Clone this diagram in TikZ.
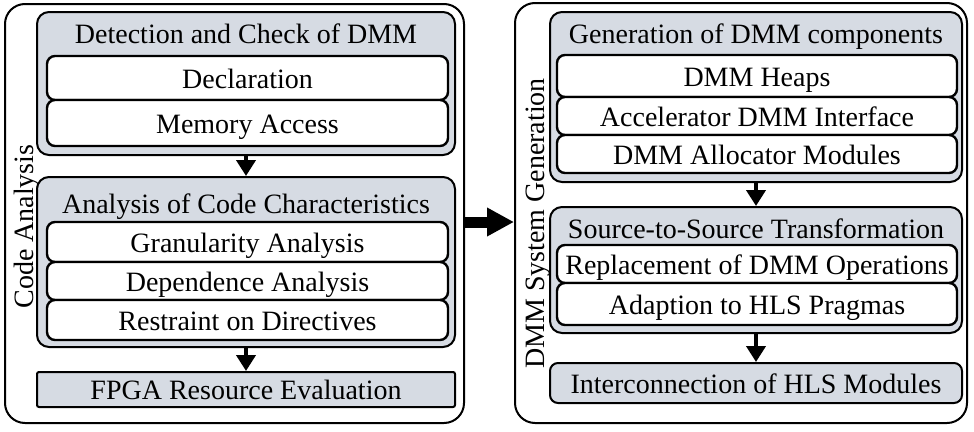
\documentclass[tikz,border=0pt]{standalone}
\usepackage{fontspec}
\setmainfont{Liberation Serif}
\usepackage{tikz}
\usetikzlibrary{arrows.meta}
\definecolor{boxGray}{RGB}{214,219,227}

\tikzset{
	txt/.style={font=\fontsize{28pt}{30pt}\selectfont, inner sep=0pt, text height=20pt, text depth=0pt},
	outerBox/.style={txt, rectangle, draw=black, line width=2pt, rounded corners=20pt},
	groupBox/.style={txt, rectangle, draw=black, fill=boxGray, line width=2pt, rounded corners=12pt},
	itemBox/.style={txt, rectangle, draw=black, fill=white, line width=2.4pt, rounded corners=8pt},
	flowArrow/.style={-{Triangle[length=16pt,width=19pt]}, line width=4pt},
	bigArrow/.style={-{Triangle[length=27pt,width=27pt]}, line width=11pt}
}

\begin{document}
\begin{tikzpicture}[x=1pt, y=-1pt]

		\useasboundingbox (0,0) rectangle (974,431);

		% left part
		\node[outerBox, minimum width=459pt, minimum height=419pt](codeBox) at (234.5,213.5){};
		\node[txt, rotate=90](codeLabel) at (23,226.5){Code Analysis};

		\node[groupBox, minimum width=418pt, minimum height=143pt](detectBox) at (246,83.5){};
		\node[txt](detectTitle) at (246,33){Detection and Check of DMM};
		\node[itemBox, minimum width=401pt, minimum height=44pt](declBox) at (247.5,78){Declaration};
		\node[itemBox, minimum width=401pt, minimum height=46pt](memBox) at (247.5,123){Memory Access};

		\node[groupBox, minimum width=418pt, minimum height=170pt](analysisBox) at (246,262){};
		\node[txt](analysisTitle) at (246,203){Analysis of Code Characteristics};
		\node[itemBox, minimum width=401pt, minimum height=40pt](granBox) at (247.5,242){Granularity Analysis};
		\node[itemBox, minimum width=401pt, minimum height=38pt](depBox) at (247.5,281){Dependence Analysis};
		\node[itemBox, minimum width=401pt, minimum height=40pt](restBox) at (247.5,320){Restraint on Directives};

		\node[groupBox, rounded corners=2pt, minimum width=418pt, minimum height=35pt](fpgaBox) at (246,389.5){FPGA Resource Evaluation};

		% right part
		\node[outerBox, minimum width=452pt, minimum height=420pt](sysBox) at (741,213){};
		\node[txt, rotate=90](sysLabel) at (534,223.5){DMM System Generation};

		\node[groupBox, minimum width=412pt, minimum height=170pt](genBox) at (756,97){};
		\node[txt](genTitle) at (756,33){Generation of DMM components};
		\node[itemBox, minimum width=400pt, minimum height=42pt](heapBox) at (757,76){DMM Heaps};
		\node[itemBox, minimum width=400pt, minimum height=38pt](ifaceBox) at (757,116){Accelerator DMM Interface};
		\node[itemBox, minimum width=400pt, minimum height=38pt](allocBox) at (757,154){DMM Allocator Modules};

		\node[groupBox, minimum width=412pt, minimum height=126pt](s2sBox) at (756,270){};
		\node[txt](s2sTitle) at (756,228){Source-to-Source Transformation};
		\node[itemBox, minimum width=400pt, minimum height=38pt](replBox) at (757,264){Replacement of DMM Operations};
		\node[itemBox, minimum width=400pt, minimum height=42pt](pragBox) at (757,304){Adaption to HLS Pragmas};

		\node[groupBox, rounded corners=8pt, minimum width=412pt, minimum height=40pt](interBox) at (756,383){Interconnection of HLS Modules};

		% arrows
		\draw [flowArrow] (detectBox.south) -- (analysisBox.north);
		\draw [flowArrow] (analysisBox.south) -- (fpgaBox.north);
		\draw [flowArrow] (genBox.south) -- (s2sBox.north);
		\draw [flowArrow] (s2sBox.south) -- (interBox.north);
		\draw [bigArrow] ([yshift=-8.5pt]codeBox.east) -- ([yshift=-8.5pt]codeBox.east -| sysBox.west);

	\end{tikzpicture}
\end{document}
